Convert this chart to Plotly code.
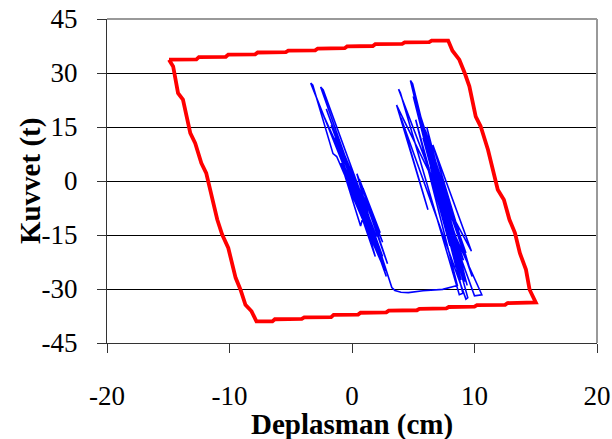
import plotly.graph_objects as go

# Envelope loop (red): displacement (cm) and force (t), traced clockwise
env_x = [-14.94, -12.7, -12.5, -10.3, -10.1, -7.9, -7.7, -5.4, -5.2, -3.0, -2.8, -0.6, -0.4,
         1.7, 1.9, 4.1, 4.3, 6.3, 6.5, 7.85,
         8.2, 8.76, 9.2, 9.58, 10.1, 10.5, 11.1, 11.9, 12.4, 12.85, 13.3, 13.7, 14.2, 14.5, 15.0,
         12.7, 12.5, 10.2, 10.0, 7.9, 7.7, 5.5, 5.3, 3.0, 2.8, 0.7, 0.5, -1.5, -1.7, -3.9, -4.1,
         -6.3, -6.5, -7.8,
         -8.2, -8.7, -9.1, -9.5, -10.1, -10.6, -11.0, -11.3, -11.9, -12.3, -12.8, -13.2, -13.8,
         -14.2, -14.6, -14.94]
env_y = [33.7, 33.8, 34.4, 34.5, 35.1, 35.2, 35.7, 35.8, 36.2, 36.3, 36.8, 36.9, 37.4,
         37.5, 38.0, 38.1, 38.5, 38.6, 39.0, 39.0,
         36.2, 33.7, 30.0, 26.3, 17.9, 15.2, 8.7, -2.4, -5.2, -10.7, -14.4, -20.0, -24.6, -30.2, -33.7,
         -33.9, -34.4, -34.5, -34.9, -35.0, -35.4, -35.5, -35.9, -36.0, -36.5, -36.6, -37.1, -37.2,
         -37.8, -37.9, -38.3, -38.4, -39.0, -39.0,
         -36.2, -34.4, -30.2, -26.9, -18.6, -14.9, -10.7, -6.1, 2.2, 5.0, 10.5, 13.3, 22.6,
         24.4, 31.8, 33.7]

# Test response (blue): cyclic record, first band, transfer at the bottom, second band
test_x = [0.4, -0.8, 0.9, -1.5, 1.2, -2.1, 1.6, -2.56, -2.35, 1.0, -1.0, 1.8, -1.7, 2.1,
          -3.37, -3.2, -1.55, -1.25, 2.4, -0.5, 1.95, -0.9, 0.7, 0.9, 2.7, -0.3, 1.6, 0.9,
          2.3, 0.6, 2.9, 1.0, 2.5, 0.4, 2.2, -0.2, 1.4, -0.6, 2.6, 0.1, 1.9, -1.4, 1.3,
          -2.3, 2.0, -0.9, 2.8, 0.2, 2.5, 0.6, 2.0, -0.4, 2.2, 1.1, 3.1,
          3.25, 3.5, 4.0, 4.6, 5.8, 7.4, 8.2, 8.6,
          5.2, 8.0, 4.77, 4.95, 8.9, 5.8, 9.1, 3.8, 3.95, 8.76, 9.05, 6.4, 9.3, 5.4, 7.4,
          6.0, 8.8, 3.64, 6.2, 4.0, 9.3, 9.45, 7.0, 9.75, 6.6, 9.8, 6.9, 8.4, 10.6, 10.0,
          8.0, 5.0, 8.5, 6.3, 9.2, 7.6, 6.4, 8.3, 5.7, 7.9, 6.8, 9.0, 5.9, 8.7, 6.5,
          9.4, 6.1, 7.7, 5.5, 8.9, 7.2, 9.6, 6.7, 8.1, 6.2, 7.5, 5.6, 8.6, 6.6, 8.0,
          6.0, 7.2]
test_y = [-3.0, 8.5, -7.5, 14.0, -11.0, 20.0, -14.0, 26.1, 25.3, -6.0, 10.5, -16.5, 15.5, -19.5,
          27.2, 26.6, 7.6, 6.8, -22.0, 2.0, -18.0, 5.0, -12.5, -10.0, -25.0, -1.5, -8.5, -2.0,
          -14.4, 0.5, -23.0, -4.5, -17.0, 2.0, -20.0, 4.0, -13.0, 6.0, -24.0, 1.0, -21.0, 12.0, -9.0,
          18.0, -17.5, 9.0, -26.5, 0.0, -21.0, -3.0, -15.5, 4.5, -18.5, -7.0, -28.3,
          -29.6, -30.4, -30.9, -31.0, -30.5, -30.1, -29.5, -29.0,
          17.0, -18.0, 27.9, 27.0, -27.5, 12.0, -22.0, 25.5, 24.5, -31.6, -31.2, 6.0, -20.0, 18.5, -7.0,
          14.0, -15.0, 21.1, -8.0, 17.5, -32.8, -32.4, -2.0, -19.5, 10.0, -26.5, 3.0, -15.0, -31.6, -31.9,
          -13.0, 23.5, -24.0, 9.0, -28.0, -10.0, 4.0, -21.0, 14.0, -12.0, 1.0, -23.0, 11.0, -25.0, 7.0,
          -29.0, 15.0, -6.0, 19.0, -17.0, -1.0, -24.5, 5.0, -11.0, 12.5, -4.0, 16.0, -19.0, 6.5, -13.5,
          10.0, -2.5]

x_ticks = [-20, -10, 0, 10, 20]
y_ticks = [-45, -30, -15, 0, 15, 30, 45]

serif = "Liberation Serif, Times New Roman, serif"

fig = go.Figure()
fig.add_trace(go.Scatter(x=test_x, y=test_y, mode="lines",
                         line=dict(color="#0000ff", width=1.6), hoverinfo="skip"))
fig.add_trace(go.Scatter(x=env_x, y=env_y, mode="lines",
                         line=dict(color="#ff0000", width=3.8), hoverinfo="skip"))

fig.update_layout(
    width=612, height=439,
    margin=dict(l=107, r=15, t=19, b=96),
    paper_bgcolor="white", plot_bgcolor="white",
    showlegend=False,
    font=dict(family=serif, color="black"),
    xaxis=dict(range=[-20, 20], tickvals=x_ticks, ticktext=[str(v) for v in x_ticks],
               ticks="outside", ticklen=9, tickwidth=1, tickcolor="#333333",
               showline=True, linecolor="#333333", linewidth=1.2,
               showgrid=False, zeroline=False, automargin=False,
               tickfont=dict(family=serif, size=27, color="black"),
               ticklabelstandoff=19),
    yaxis=dict(range=[-45, 45], tickvals=y_ticks, ticktext=[str(v) for v in y_ticks],
               ticks="outside", ticklen=9, tickwidth=1, tickcolor="#333333",
               showline=True, linecolor="#333333", linewidth=1.2,
               showgrid=True, gridcolor="black", gridwidth=1, zeroline=False, automargin=False,
               tickfont=dict(family=serif, size=27, color="black"),
               ticklabelstandoff=14),
)

# Light frame on the top and right sides of the plotting area
fig.add_shape(type="line", xref="paper", yref="paper", x0=0, x1=1, y0=1, y1=1,
              line=dict(color="#999999", width=2), layer="above")
fig.add_shape(type="line", xref="paper", yref="paper", x0=1, x1=1, y0=0, y1=1,
              line=dict(color="#999999", width=2), layer="above")

fig.add_annotation(text="<b>Deplasman (cm)</b>", xref="paper", yref="paper",
                   x=0.5, y=-0.25, xanchor="center", yanchor="middle", showarrow=False,
                   font=dict(family=serif, size=29, color="black"))
fig.add_annotation(text="<b>Kuvvet (t)</b>", xref="paper", yref="paper",
                   x=-0.157, y=0.5, xanchor="center", yanchor="middle", showarrow=False,
                   textangle=-90, font=dict(family=serif, size=29, color="black"))

fig.write_html("out.html")
